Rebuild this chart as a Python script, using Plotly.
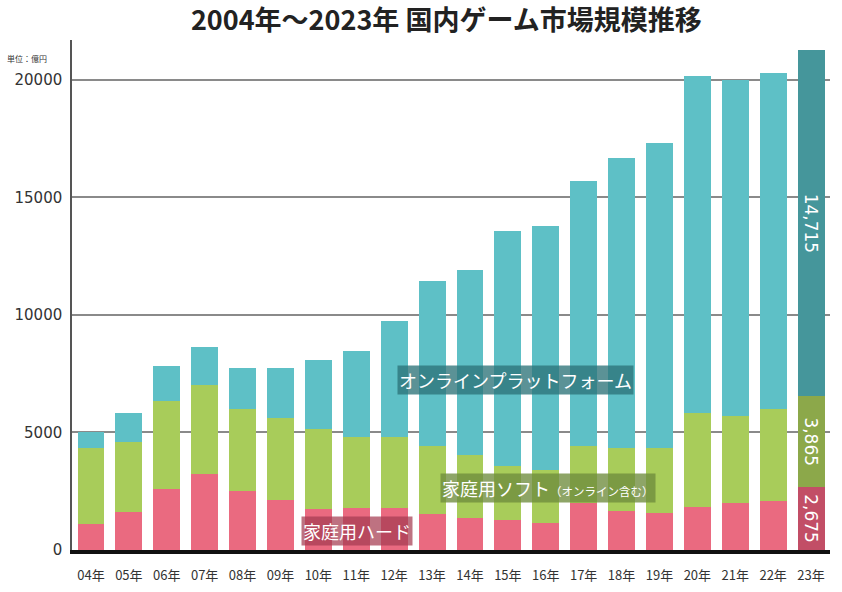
import plotly.graph_objects as go

years = ["04年", "05年", "06年", "07年", "08年", "09年", "10年", "11年", "12年", "13年",
         "14年", "15年", "16年", "17年", "18年", "19年", "20年", "21年", "22年", "23年"]
hardware = [1100, 1620, 2590, 3255, 2490, 2130, 1740, 1780, 1770, 1550,
            1380, 1270, 1170, 1990, 1660, 1570, 1850, 2020, 2090, 2675]
software = [3230, 2980, 3730, 3770, 3500, 3490, 3400, 3030, 3040, 2880,
            2650, 2310, 2230, 2440, 2670, 2775, 3960, 3685, 3890, 3865]
online = [670, 1210, 1500, 1595, 1750, 2120, 2950, 3640, 4940, 6995,
          7875, 9985, 10390, 11275, 12340, 12955, 14340, 14275, 14295, 14715]
y_ticks = [0, 5000, 10000, 15000, 20000]

n = len(years)
last = n - 1


def colors(base, highlight):
    return [highlight if i == last else base for i in range(n)]


def last_text(vals):
    return ["" if i != last else f"{v:,}" for i, v in enumerate(vals)]


series = [
    ("家庭用ハード", hardware, "#EA6A80", "#C24E66"),
    ("家庭用ソフト", software, "#A8CC5A", "#8CA84A"),
    ("オンラインプラットフォーム", online, "#5EC0C6", "#45969B"),
]

fig = go.Figure()
for name, vals, c, hc in series:
    fig.add_trace(go.Bar(
        x=years, y=vals, name=name,
        marker=dict(color=colors(c, hc), line=dict(width=0)),
        text=last_text(vals), textposition="inside", insidetextanchor="middle",
        textangle=90, constraintext="none",
        textfont=dict(family="DejaVu Sans", size=17, color="white"),
        hoverinfo="x+y+name",
    ))

font_jp = "Noto Sans CJK JP"

annotations = [
    dict(text="オンラインプラットフォーム", x=11.2, y=7230, xref="x", yref="y",
         showarrow=False, font=dict(family=font_jp, size=18, color="white"),
         bgcolor="rgba(45,115,120,0.78)", borderpad=1),
    dict(text="家庭用ソフト<span style='font-size:11.5px'>（オンライン含む）</span>",
         x=12.05, y=2650, xref="x", yref="y",
         showarrow=False, font=dict(family=font_jp, size=18, color="white"),
         bgcolor="rgba(110,140,60,0.78)", borderpad=1),
    dict(text="家庭用ハード", x=7.03, y=800, xref="x", yref="y",
         showarrow=False, font=dict(family=font_jp, size=18, color="white"),
         bgcolor="rgba(165,60,80,0.72)", borderpad=1),
    dict(text="単位：億円", x=-0.088, y=0.963, xref="paper", yref="paper",
         xanchor="left", yanchor="middle", showarrow=False,
         font=dict(family=font_jp, size=8, color="#333")),
]

fig.update_layout(
    width=842, height=592,
    margin=dict(l=72, r=12, t=40, b=42, autoexpand=False),
    paper_bgcolor="white", plot_bgcolor="white",
    barmode="stack", bargap=0.29,
    showlegend=False,
    title=dict(text="<b>2004年～2023年 国内ゲーム市場規模推移</b>",
               x=0.53, xanchor="center", y=0.966, yanchor="middle",
               font=dict(family=font_jp, size=27, color="#222")),
    annotations=annotations,
    xaxis=dict(
        type="category", showgrid=False, showline=True, linecolor="#111", linewidth=4,
        ticks="", tickfont=dict(family=font_jp, size=13, color="#333"),
        ticklabelstandoff=10, automargin=False,
    ),
    yaxis=dict(
        range=[0, 21700], tickvals=y_ticks, ticktext=[str(v) for v in y_ticks],
        showgrid=True, gridcolor="#8a8a8a", gridwidth=1.5, zeroline=False,
        showline=True, linecolor="#555", linewidth=1.5, ticks="",
        tickfont=dict(family="DejaVu Sans", size=15, color="#333"),
        ticklabelstandoff=5, automargin=False,
    ),
)

fig.write_html("out.html", config={"displayModeBar": False},
               post_script="document.body.style.margin='0';")
